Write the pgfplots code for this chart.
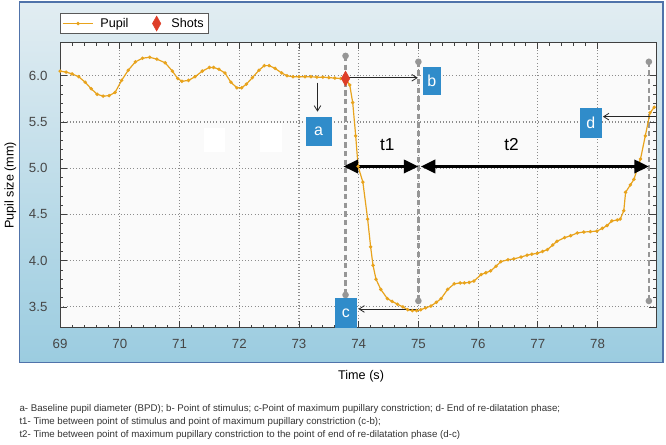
\documentclass[border=0pt]{standalone}
\usepackage{pgfplots}
\pgfplotsset{compat=1.18}
\usetikzlibrary{arrows.meta}
\usepackage{fontspec}
\setmainfont{Liberation Sans}

\definecolor{pupil}{RGB}{232,163,28}
\definecolor{pupilmk}{RGB}{185,110,20}
\definecolor{shot}{RGB}{222,62,40}
\definecolor{boxblue}{RGB}{48,140,202}
\definecolor{pingrey}{RGB}{150,150,150}
\definecolor{panelTop}{RGB}{226,237,242}
\definecolor{panelBot}{RGB}{155,204,224}
\definecolor{panelEdge}{RGB}{80,115,170}
\definecolor{ticktext}{RGB}{70,70,70}

\begin{document}
\begin{tikzpicture}
% page frame and blue panel, in pixels from the top left
\begin{scope}[x=0.75pt,y=-0.75pt]
\path (0,0) rectangle (666,446);
\shade[top color=panelTop,bottom color=panelBot] (17,2) rectangle (663,364);
\draw[panelEdge,line width=1.1pt] (17,2) rectangle (663,364);
\node[rotate=90,font=\fontsize{9.5}{11}\selectfont] at (8,186) {Pupil size (mm)};
\node[font=\fontsize{9.5}{11}\selectfont] at (360,378) {Time (s)};
\begin{scope}[font=\fontsize{7.3}{8}\selectfont,text=black!80]
\node[anchor=base west,inner sep=0] at (17,413) {a- Baseline pupil diameter (BPD); b- Point of stimulus; c-Point of maximum pupillary constriction; d- End of re-dilatation phase;};
\node[anchor=base west,inner sep=0] at (17,426) {t1- Time between point of stimulus and point of maximum pupillary constriction (c-b);};
\node[anchor=base west,inner sep=0] at (17,439) {t2- Time between point of maximum pupillary constriction to the point of end of re-dilatation phase (d-c)};
\end{scope}
\end{scope}

\begin{axis}[
    at={(43.5pt,-32.25pt)}, anchor=north west,
    scale only axis, width=448.5pt, height=214.5pt,
    xmin=69, xmax=78.98, ymin=3.274, ymax=6.356,
    xtick={69,70,...,78},
    ytick={3.5,4.0,4.5,5.0,5.5,6.0},
    minor x tick num=4, minor y tick num=4,
    tick align=inside,
    major tick length=5pt, minor tick length=2.5pt,
    every tick/.style={black!75,line width=0.6pt},
    axis line style={black!75,line width=0.8pt},
    axis background/.style={fill=black!2},
    grid=major,
    major grid style={dotted,black!45,line width=0.8pt},
    ticklabel style={font=\fontsize{10}{12}\selectfont,text=ticktext},
    /pgf/number format/assume math mode=true,
    yticklabel style={/pgf/number format/fixed,/pgf/number format/fixed zerofill,
        /pgf/number format/precision=1},
    xticklabel style={yshift=-5pt},
    yticklabel style={xshift=-6pt},
    clip=false,
    legend columns=2,
    legend style={at={(0,1.031)}, anchor=south west, draw=black!65,
        fill=white, font=\fontsize{9.5}{10}\selectfont, inner sep=1.5pt,
        /tikz/column 1/.style={column sep=3pt},
        /tikz/column 2/.style={column sep=16pt},
        /tikz/column 3/.style={column sep=6pt},
        /tikz/column 4/.style={column sep=4pt}},
    legend cell align={left},
]

% dashed marker lines with their grey pins
\draw[pingrey,dash pattern=on 4pt off 2.5pt,line width=1.8pt] (axis cs:73.78,6.215) -- (axis cs:73.78,3.63);
\draw[pingrey,dash pattern=on 4pt off 2.5pt,line width=1.8pt] (axis cs:75.0,6.151) -- (axis cs:75.0,3.565);
\draw[pingrey,dash pattern=on 4pt off 2.5pt,line width=1.8pt] (axis cs:78.86,6.151) -- (axis cs:78.86,3.565);
\fill[pingrey] (axis cs:73.78,6.215) circle (2.5pt);
\fill[pingrey] (axis cs:75.0,6.151) circle (2.5pt);
\fill[pingrey] (axis cs:78.86,6.151) circle (2.5pt);
\fill[pingrey] (axis cs:73.78,3.63) circle (2.5pt);
\fill[pingrey] (axis cs:75.0,3.565) circle (2.5pt);
\fill[pingrey] (axis cs:78.86,3.565) circle (2.5pt);
\fill[white] (axis cs:71.41,5.44) rectangle (axis cs:71.76,5.18);
\fill[white] (axis cs:72.34,5.494) rectangle (axis cs:72.71,5.18);

\addplot[pupil, line width=0.9pt, mark=*, mark size=0.8pt,
    mark options={draw=none,fill=pupilmk},
    legend image code/.code={\draw[mark repeat=2,mark phase=2]
        plot coordinates {(0cm,0cm) (0.4cm,0cm) (0.8cm,0cm)};}]
    coordinates {
    (69.00,6.05) (69.10,6.04) (69.20,6.02) (69.31,5.99) (69.42,5.93)
    (69.52,5.86) (69.62,5.80) (69.72,5.78) (69.82,5.785) (69.92,5.82)
    (70.03,5.95) (70.14,6.06) (70.26,6.15) (70.38,6.19) (70.50,6.20)
    (70.62,6.18) (70.76,6.14) (70.88,6.05) (70.97,5.97) (71.04,5.94)
    (71.15,5.95) (71.26,5.99) (71.38,6.05) (71.50,6.09) (71.57,6.09)
    (71.66,6.07) (71.76,6.03) (71.86,5.93) (71.96,5.87) (72.04,5.87)
    (72.12,5.91) (72.22,5.98) (72.33,6.06) (72.42,6.11) (72.50,6.11)
    (72.60,6.08) (72.71,6.03) (72.80,6.00) (72.90,5.99) (73.00,5.99)
    (73.10,5.99) (73.20,5.99) (73.30,5.985) (73.40,5.985) (73.50,5.98)
    (73.60,5.975) (73.70,5.97) (73.78,5.97) (73.85,5.90) (73.90,5.71)
    (73.95,5.35) (73.99,5.02) (74.07,4.85) (74.15,4.45) (74.20,4.15)
    (74.24,3.95) (74.29,3.80) (74.37,3.69) (74.48,3.59) (74.56,3.56)
    (74.65,3.53) (74.74,3.50) (74.82,3.47) (74.90,3.46) (74.97,3.46)
    (75.04,3.47) (75.12,3.49) (75.21,3.51) (75.30,3.55) (75.38,3.59)
    (75.49,3.69) (75.60,3.75) (75.70,3.76) (75.77,3.76) (75.85,3.765)
    (75.93,3.78) (76.05,3.85) (76.13,3.87) (76.21,3.89) (76.30,3.94)
    (76.38,3.99) (76.50,4.01) (76.60,4.02) (76.72,4.04) (76.82,4.06)
    (76.90,4.07) (76.99,4.08) (77.08,4.10) (77.16,4.12) (77.25,4.17)
    (77.32,4.21) (77.45,4.25) (77.55,4.27) (77.66,4.30) (77.77,4.31)
    (77.88,4.315) (77.99,4.32) (78.08,4.35) (78.16,4.38) (78.24,4.43)
    (78.33,4.44) (78.38,4.45) (78.44,4.54) (78.47,4.74) (78.55,4.82)
    (78.61,4.88) (78.72,5.10) (78.80,5.35) (78.88,5.60) (78.95,5.66)
    };
\addlegendentry{Pupil}

\addplot[only marks, mark=diamond*, mark size=4pt,
    mark options={fill=shot,draw=shot,yscale=1.4,xscale=1.05}]
    coordinates {(73.78,5.97)};
\addlegendentry{Shots}

\fill[white] (axis cs:73.93,5.89) circle (2.2pt);

% letter boxes
\node[fill=boxblue,text=white,minimum width=19.5pt,minimum height=22.5pt,inner sep=0,
    font=\fontsize{12}{12}\selectfont] at (axis cs:73.33,5.397) {a};
\node[fill=boxblue,text=white,minimum width=13.5pt,minimum height=21pt,inner sep=0,
    font=\fontsize{12}{12}\selectfont] at (axis cs:75.224,5.946) {b};
\node[fill=boxblue,text=white,minimum width=17pt,minimum height=23pt,inner sep=0,
    font=\fontsize{12}{12}\selectfont] at (axis cs:73.786,3.435) {c};
\node[fill=boxblue,text=white,minimum width=17pt,minimum height=23pt,inner sep=0,
    font=\fontsize{12}{12}\selectfont] at (axis cs:77.888,5.488) {d};

% thin arrows
\draw[black!85,line width=0.6pt,-{Straight Barb[length=4pt,width=5pt]}]
    (axis cs:73.31,5.925) -- (axis cs:73.31,5.612);
\draw[black!85,line width=0.6pt,-{Straight Barb[length=4pt,width=5pt]}]
    (axis cs:73.78,5.978) -- (axis cs:74.99,5.978);
\draw[black!85,line width=0.6pt,-{Straight Barb[length=4pt,width=5pt]}]
    (axis cs:74.99,3.478) -- (axis cs:73.995,3.478);
\draw[black!85,line width=0.6pt,-{Straight Barb[length=4pt,width=5pt]}]
    (axis cs:78.98,5.558) -- (axis cs:78.09,5.558);

% t1 and t2 spans
\draw[black,line width=2.2pt,{Triangle[length=11pt,width=10pt]}-{Triangle[length=11pt,width=10pt]}]
    (axis cs:73.745,5.019) -- (axis cs:75.0,5.019);
\draw[black,line width=2.2pt,{Triangle[length=11pt,width=10pt]}-{Triangle[length=11pt,width=10pt]}]
    (axis cs:75.04,5.019) -- (axis cs:78.86,5.019);
\node[font=\fontsize{13}{13}\selectfont] at (axis cs:74.48,5.256) {t1};
\node[font=\fontsize{13}{13}\selectfont] at (axis cs:76.56,5.256) {t2};

\end{axis}
\end{tikzpicture}
\end{document}
